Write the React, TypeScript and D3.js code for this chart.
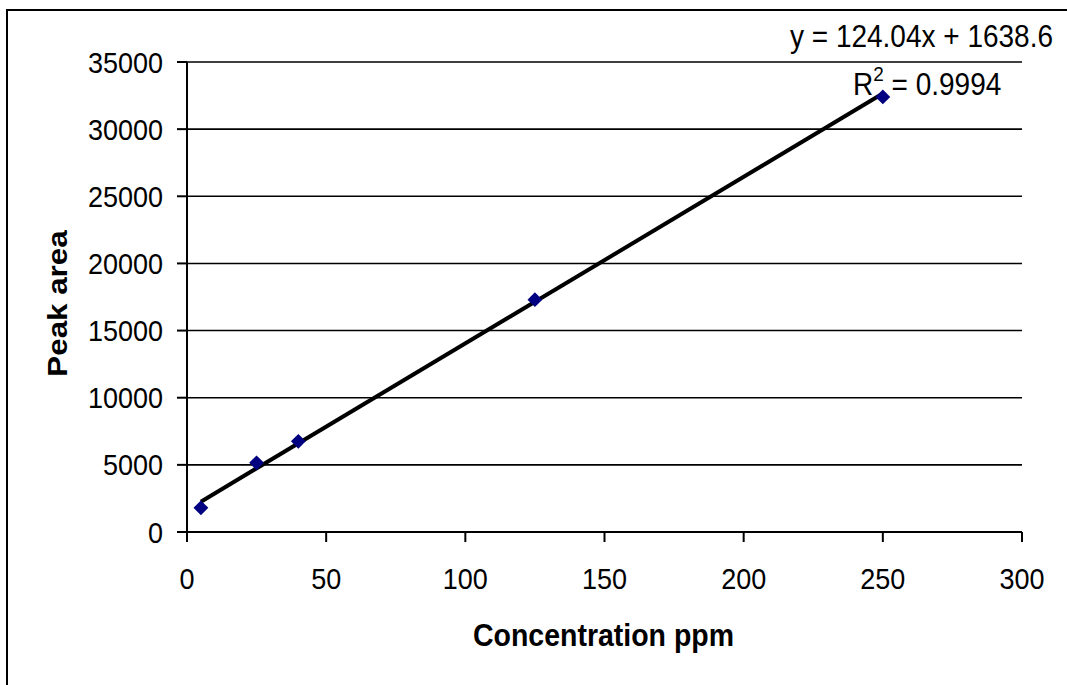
import React from "react";
import * as d3 from "d3";

const concentrations = [5, 25, 40, 125, 250];
const peakAreas = [1800, 5150, 6750, 17300, 32400];
const yTicks = [0, 5000, 10000, 15000, 20000, 25000, 30000, 35000];
const xTicks = [0, 50, 100, 150, 200, 250, 300];
const slope = 124.04;
const intercept = 1638.6;
const equationLabel = "y = 124.04x + 1638.6";
const r2Value = "0.9994";
const xTitle = "Concentration ppm";
const yTitle = "Peak area";

const W = 1067;
const H = 685;
const FONT = "'Liberation Sans', Arial, sans-serif";
const SY = 1.1;

export default function App() {
  const x = d3.scaleLinear().domain([0, 300]).range([187, 1022]);
  const y = d3.scaleLinear().domain([0, 35000]).range([532, 62]);

  const [xmin, xmax] = d3.extent(concentrations) as [number, number];
  const line = d3
    .line<number>()
    .x((d) => x(d))
    .y((d) => y(slope * d + intercept));

  const diamond = d3.symbol().type(d3.symbolDiamond2).size(140)();

  return (
    <svg
      width={W}
      height={H}
      style={{ position: "absolute", left: 0, top: 0, background: "#fff" }}
      fontFamily={FONT}
    >
      <rect x={0} y={0} width={W} height={H} fill="#fff" />
      {/* outer chart border */}
      <rect x={7} y={10} width={1200} height={800} fill="none" stroke="#000" strokeWidth={2} />

      {/* gridlines */}
      {yTicks
        .filter((t) => t > 0)
        .map((t) => (
          <line key={"g" + t} x1={x(0)} x2={x(300)} y1={y(t)} y2={y(t)} stroke="#000" strokeWidth={1.6} />
        ))}

      {/* axes */}
      <line x1={x(0)} x2={x(0)} y1={y(35000)} y2={y(0)} stroke="#000" strokeWidth={2} />
      <line x1={x(0)} x2={x(300)} y1={y(0)} y2={y(0)} stroke="#000" strokeWidth={2} />

      {yTicks.map((t) => (
        <g key={"yt" + t}>
          <line x1={x(0) - 10} x2={x(0)} y1={y(t)} y2={y(t)} stroke="#000" strokeWidth={2} />
          <text
            transform={`translate(${x(0) - 24},${y(t) + 10.5}) scale(1,${SY})`}
            textAnchor="end"
            fontSize={27}
            fill="#000"
          >
            {t}
          </text>
        </g>
      ))}

      {xTicks.map((t) => (
        <g key={"xt" + t}>
          <line x1={x(t)} x2={x(t)} y1={y(0)} y2={y(0) + 10} stroke="#000" strokeWidth={2} />
          <text
            transform={`translate(${x(t)},589) scale(1,${SY})`}
            textAnchor="middle"
            fontSize={27}
            fill="#000"
          >
            {t}
          </text>
        </g>
      ))}

      {/* axis titles */}
      <text
        transform={`translate(603.5,646) scale(1,${SY})`}
        textAnchor="middle"
        fontSize={28.5}
        fontWeight="bold"
        fill="#000"
      >
        {xTitle}
      </text>
      <text
        transform={`translate(67,303.5) rotate(-90) scale(${SY},1)`}
        textAnchor="middle"
        fontSize={28.5}
        fontWeight="bold"
        fill="#000"
      >
        {yTitle}
      </text>

      {/* trendline */}
      <path d={line([xmin, xmax]) || ""} fill="none" stroke="#000" strokeWidth={4} />

      {/* data markers */}
      {concentrations.map((c, i) => (
        <path
          key={"p" + i}
          d={diamond || ""}
          transform={`translate(${x(c)},${y(peakAreas[i])})`}
          fill="#000080"
        />
      ))}

      {/* trendline labels */}
      <text transform={`translate(790,47) scale(1,${SY})`} fontSize={28} fill="#000">
        {equationLabel}
      </text>
      <text transform={`translate(853,95) scale(1,${SY})`} fontSize={28} fill="#000">
        R
        <tspan fontSize={19} dy={-13}>2</tspan>
        <tspan dy={13}>{" = " + r2Value}</tspan>
      </text>
    </svg>
  );
}
